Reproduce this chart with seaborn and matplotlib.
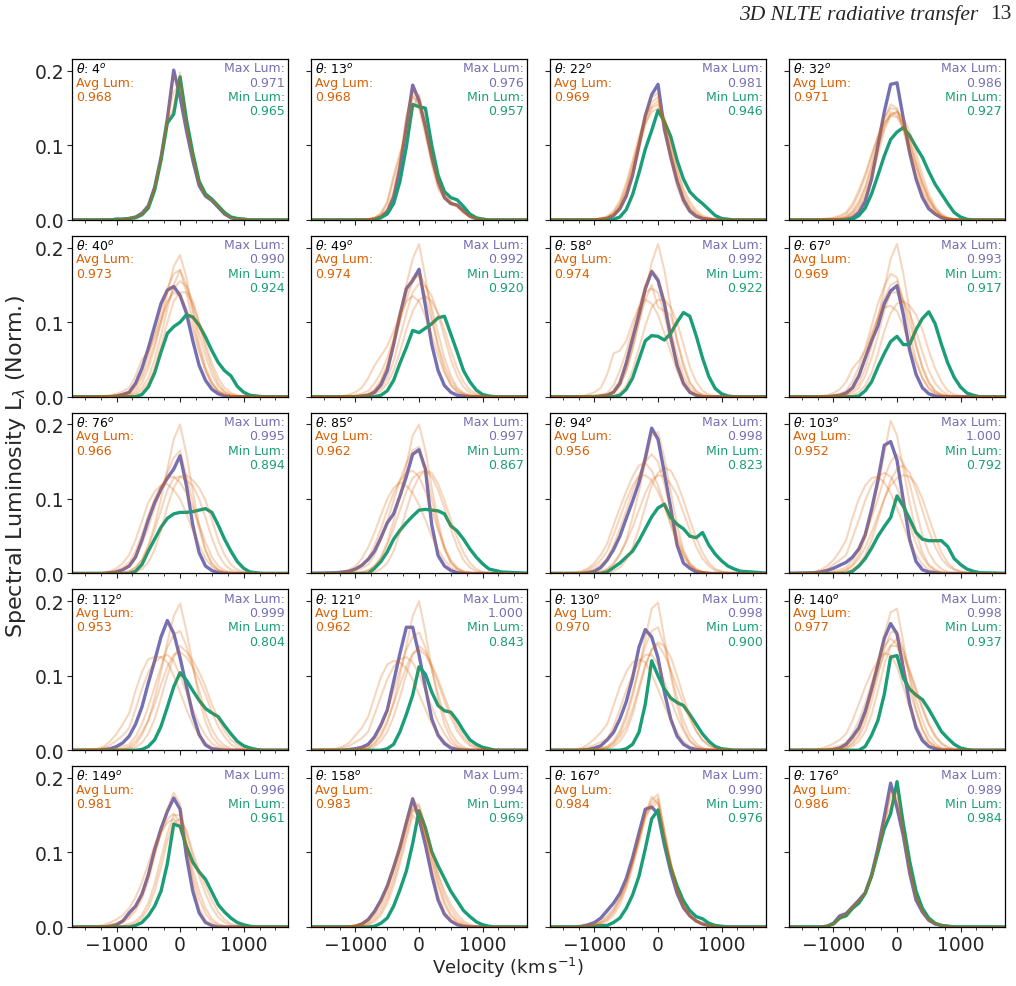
import numpy as np
import matplotlib
matplotlib.use("Agg")
import matplotlib.pyplot as plt
from matplotlib.ticker import MultipleLocator
import seaborn as sns

# velocity grid (km/s)
VEL = [-1800, -1300, -1200, -1100, -1000, -900, -800, -700, -600, -500, -400, -300, -200, -100,
       0, 100, 200, 300, 400, 500, 600, 700, 800, 900, 1000, 1100, 1200, 1300, 1800]

THETA = [4, 13, 22, 32, 40, 49, 58, 67, 76, 85, 94, 103, 112, 121, 130, 140, 149, 158, 167, 176]
AVG_LUM = [0.968, 0.968, 0.969, 0.971, 0.973, 0.974, 0.974, 0.969, 0.966, 0.962,
           0.956, 0.952, 0.953, 0.962, 0.970, 0.977, 0.981, 0.983, 0.984, 0.986]
MAX_LUM = [0.971, 0.976, 0.981, 0.986, 0.990, 0.992, 0.992, 0.993, 0.995, 0.997,
           0.998, 1.000, 0.999, 1.000, 0.998, 0.998, 0.996, 0.994, 0.990, 0.989]
MIN_LUM = [0.965, 0.957, 0.946, 0.927, 0.924, 0.920, 0.922, 0.917, 0.894, 0.867,
           0.823, 0.792, 0.804, 0.843, 0.900, 0.937, 0.961, 0.969, 0.976, 0.984]

# spectral luminosity x 1000, brightest direction per panel
max_curves = [
    [0, 0,0,0,1,1, 2,4,9,19,44,84,136,201,165,120,80,46,32,26,17,8,3, 1,1,0,0,0, 0],
    [0, 0,0,0,0,0, 0,1,4,11,30,70,125,181,160,125,85,52,30,22,20,12,5, 2,1,0,0,0, 0],
    [0, 0,0,0,0,1, 2,6,15,32,60,100,140,168,182,122,85,52,27,12,5,2,1, 0,0,0,0,0, 0],
    [0, 0,0,0,0,0, 1,3,10,25,55,100,145,182,184,136,90,55,30,15,8,3,1, 0,0,0,0,0, 0],
    [0, 0,0,0,1,3, 6,18,38,65,95,125,143,148,136,112,75,42,22,10,4,1,0, 0,0,0,0,0, 0],
    [0, 0,0,0,0,1, 2,6,16,35,70,110,145,156,171,122,70,35,15,6,2,1,0, 0,0,0,0,0, 0],
    [0, 0,0,0,0,1, 2,6,18,45,78,110,145,168,156,125,80,42,18,6,2,0,0, 0,0,0,0,0, 0],
    [0, 0,0,0,1,2, 5,12,28,52,75,95,125,142,149,110,62,30,12,4,1,0,0, 0,0,0,0,0, 0],
    [0, 0,0,1,2,5, 10,22,45,72,95,113,128,140,158,118,65,28,10,4,1,0,0, 0,0,0,0,0, 0],
    [0, 1,2,3,6,11, 19,30,48,68,80,104,130,160,166,140,65,24,10,4,1,0,0, 0,0,0,0,0, 0],
    [0, 0,0,1,3,8, 18,32,50,74,97,122,155,195,180,135,88,38,14,7,2,1,0, 0,0,0,0,0, 0],
    [0, 1,2,4,7,11, 15,22,33,52,86,125,172,177,152,98,45,16,5,2,1,0,0, 0,0,0,0,0, 0],
    [0, 0,1,2,5,10, 19,35,58,90,120,152,174,157,124,86,48,21,7,2,1,0,0, 0,0,0,0,0, 0],
    [0, 0,0,1,2,4, 8,18,34,54,92,130,165,165,128,84,42,20,9,3,1,0,0, 0,0,0,0,0, 0],
    [0, 0,0,1,3,6, 14,24,42,65,97,138,162,152,124,78,42,19,8,3,1,0,0, 0,0,0,0,0, 0],
    [0, 0,0,0,1,3, 8,18,30,52,82,115,150,170,156,110,62,30,13,5,2,0,0, 0,0,0,0,0, 0],
    [0, 0,0,1,3,8, 19,28,44,70,104,132,155,173,158,95,48,19,6,2,0,0,0, 0,0,0,0,0, 0],
    [0, 0,0,0,1,4, 10,21,36,55,80,107,140,172,145,110,70,36,17,8,3,1,0, 0,0,0,0,0, 0],
    [0, 0,1,3,6,12, 22,32,45,65,93,126,158,161,152,110,74,45,26,15,8,4,2, 1,0,0,0,0, 0],
    [0, 0,0,1,5,15, 18,27,36,46,70,106,148,193,160,122,72,36,20,9,4,2,1, 0,0,0,0,0, 0],
]

# faintest direction per panel
min_curves = [
    [0, 0,0,0,1,1, 2,3,7,16,40,80,130,142,192,135,90,52,35,28,19,10,4, 2,1,0,0,0, 0],
    [0, 0,0,0,0,0, 0,1,3,8,22,52,98,155,152,150,100,60,38,30,27,18,8, 3,1,0,0,0, 0],
    [0, 0,0,0,0,0, 0,1,4,14,34,63,95,120,147,132,112,80,55,38,29,22,14, 6,2,1,0,0, 0],
    [0, 0,0,0,0,0, 0,1,6,16,35,60,86,108,118,124,113,98,84,65,48,35,22, 10,4,1,0,0, 0],
    [0, 0,0,0,0,0, 0,0,3,13,32,60,85,94,100,110,107,96,80,62,46,35,28, 14,6,2,1,0, 0],
    [0, 0,0,0,0,0, 0,0,2,8,22,45,66,89,86,92,98,106,108,84,60,35,20, 9,3,1,0,0, 0],
    [0, 0,0,0,0,0, 0,0,2,10,25,50,75,82,81,76,85,100,113,108,82,52,27, 11,4,1,0,0, 0],
    [0, 0,0,0,0,0, 0,0,1,8,20,40,58,74,81,70,70,90,105,114,98,70,45, 26,13,5,2,0, 0],
    [0, 0,0,0,0,0, 0,3,12,30,46,62,74,80,82,82,83,85,87,82,65,46,30, 16,7,2,1,0, 0],
    [0, 0,0,0,0,0, 0,7,16,29,46,58,68,77,85,86,85,84,80,64,57,46,33, 22,13,6,4,2, 0],
    [0, 0,0,0,0,0, 2,8,14,22,30,44,60,76,88,93,75,66,60,50,48,55,38, 26,17,10,6,3, 0],
    [0, 0,0,0,0,0, 0,3,10,20,34,50,63,75,104,90,73,55,46,44,44,44,36, 20,12,6,3,1, 0],
    [0, 0,0,0,0,0, 0,0,1,5,14,32,58,85,104,94,80,67,56,50,45,33,22, 12,6,3,1,0, 0],
    [0, 0,0,0,0,0, 0,0,0,2,8,25,48,74,112,102,78,60,53,51,40,26,14, 8,4,2,0,0, 0],
    [0, 0,0,0,0,0, 0,0,0,2,8,24,62,120,100,82,70,64,60,48,35,22,12, 5,2,1,0,0, 0],
    [0, 0,0,0,0,0, 0,0,0,5,20,40,75,125,127,97,82,74,68,55,40,25,16, 8,3,1,0,0, 0],
    [0, 0,0,0,0,0, 0,2,6,15,28,48,85,138,135,108,87,74,64,47,30,20,12, 6,3,1,0,0, 0],
    [0, 0,0,0,0,0, 0,1,5,12,28,50,75,112,156,133,101,82,65,48,35,22,14, 7,3,1,0,0, 0],
    [0, 0,0,0,1,2, 2,6,12,25,43,68,105,145,157,115,80,55,35,22,14,11,5, 2,1,0,0,0, 0],
    [0, 0,0,1,4,12, 15,25,32,45,68,100,132,152,195,138,88,48,25,12,5,2,1, 0,0,0,0,0, 0],
]

# a sample of the other viewing directions per panel
dir_curves = [
    [[0, 0,0,0,0,1, 2,4,8,18,42,82,133,195,175,125,84,48,33,27,18,9,3, 1,1,0,0,0, 0],
     [0, 0,0,0,0,1, 2,3,8,17,41,81,132,150,198,128,85,49,34,27,18,9,3, 1,1,0,0,0, 0],
     [0, 0,0,0,0,1, 2,4,8,18,43,83,138,172,182,130,86,50,33,27,18,9,3, 1,1,0,0,0, 0]],
    [[0, 0,0,0,0,0, 1,2,6,15,38,80,135,175,165,118,78,45,30,22,18,10,4, 1,0,0,0,0, 0],
     [0, 0,0,0,0,0, 1,3,8,22,55,85,120,165,158,125,85,50,32,24,19,11,5, 2,0,0,0,0, 0],
     [0, 0,0,0,0,0, 1,2,5,14,35,75,140,170,150,115,75,42,28,22,20,12,5, 2,1,0,0,0, 0],
     [0, 0,0,0,0,1, 1,3,9,25,60,90,115,150,168,130,90,55,35,25,18,10,4, 1,0,0,0,0, 0]],
    [[0, 0,0,0,0,1, 3,8,20,40,70,105,140,165,170,120,80,45,22,10,4,2,1, 0,0,0,0,0, 0],
     [0, 0,0,0,1,2, 5,12,26,50,80,112,138,152,160,125,90,55,30,15,7,3,1, 0,0,0,0,0, 0],
     [0, 0,0,0,0,1, 2,6,15,32,60,95,128,150,155,135,100,65,38,20,10,4,2, 1,0,0,0,0, 0],
     [0, 0,0,0,1,2, 4,10,22,45,75,105,130,145,150,138,105,70,42,25,13,6,3, 1,0,0,0,0, 0],
     [0, 0,0,0,0,1, 3,7,18,38,66,100,135,158,165,130,92,58,32,16,8,3,1, 0,0,0,0,0, 0]],
    [[0, 0,0,1,2,4, 8,18,35,58,85,112,138,150,148,125,95,65,40,22,10,4,2, 1,0,0,0,0, 0],
     [0, 0,0,0,1,2, 5,12,25,45,75,108,135,155,150,120,88,58,35,18,8,3,1, 0,0,0,0,0, 0],
     [0, 0,0,0,0,1, 3,8,18,35,62,95,125,142,145,132,108,80,52,30,15,6,2, 1,0,0,0,0, 0],
     [0, 0,1,2,3,6, 10,22,40,62,88,112,130,140,138,122,100,72,48,28,14,6,2, 1,0,0,0,0, 0],
     [0, 0,0,0,0,1, 2,6,14,30,55,88,120,140,145,138,118,90,60,35,18,8,3, 1,0,0,0,0, 0],
     [0, 0,0,0,1,2, 4,10,22,42,70,100,128,145,140,128,105,75,48,27,13,5,2, 1,0,0,0,0, 0]],
    [[0, 0,0,0,0,1, 3,8,18,38,65,100,140,175,190,160,115,72,40,20,8,3,1, 0,0,0,0,0, 0],
     [0, 0,1,2,4,7, 12,28,50,60,80,105,128,140,135,118,90,60,35,18,8,3,1, 0,0,0,0,0, 0],
     [0, 0,0,0,0,1, 2,5,12,25,50,82,118,150,170,150,118,85,55,30,14,6,2, 1,0,0,0,0, 0],
     [0, 0,0,1,2,3, 5,12,25,45,72,100,125,145,155,148,128,98,65,38,18,7,3, 1,0,0,0,0, 0],
     [0, 0,0,0,0,0, 1,3,8,18,38,68,100,128,140,140,125,100,72,45,25,12,5, 2,1,0,0,0, 0],
     [0, 0,0,1,2,3, 6,15,30,55,85,115,145,165,170,140,100,65,35,16,7,3,1, 0,0,0,0,0, 0]],
    [[0, 0,0,0,0,1, 3,8,20,42,75,112,150,185,205,160,110,65,35,16,6,2,1, 0,0,0,0,0, 0],
     [0, 0,1,3,6,12, 25,42,55,68,88,110,128,135,128,108,82,55,32,16,7,3,1, 0,0,0,0,0, 0],
     [0, 0,0,1,1,2, 4,10,22,42,70,100,130,155,165,150,120,85,52,28,12,5,2, 1,0,0,0,0, 0],
     [0, 0,0,0,0,1, 2,5,12,25,48,80,112,140,152,148,135,110,80,50,28,13,5, 2,1,0,0,0, 0],
     [0, 0,0,1,2,4, 8,18,32,52,78,108,140,160,162,135,102,70,42,22,10,4,2, 1,0,0,0,0, 0],
     [0, 0,0,0,0,0, 1,3,8,18,35,60,90,115,130,135,128,112,90,62,38,20,9, 4,1,0,0,0, 0]],
    [[0, 0,0,0,0,0, 2,5,15,35,65,100,140,180,205,170,120,75,40,18,7,2,1, 0,0,0,0,0, 0],
     [0, 0,1,3,6,12, 30,58,62,75,100,120,130,125,110,85,60,35,15,5,2,1,0, 0,0,0,0,0, 0],
     [0, 0,0,0,0,0, 0,1,5,15,35,65,95,120,130,130,120,100,70,40,20,8,3, 1,0,0,0,0, 0],
     [0, 0,0,0,0,1, 3,8,22,45,80,115,140,145,140,110,75,45,20,8,3,1,0, 0,0,0,0,0, 0],
     [0, 0,0,0,0,1, 2,5,15,35,65,100,130,150,120,115,110,75,45,20,8,3,1, 0,0,0,0,0, 0],
     [0, 0,0,1,2,3, 5,15,35,60,90,120,150,170,160,130,90,55,28,12,4,1,0, 0,0,0,0,0, 0]],
    [[0, 0,0,0,0,1, 3,8,18,38,68,105,145,185,205,165,115,70,38,18,7,3,1, 0,0,0,0,0, 0],
     [0, 0,1,2,5,10, 20,38,48,62,85,105,120,122,115,95,70,45,25,12,5,2,1, 0,0,0,0,0, 0],
     [0, 0,0,0,0,0, 1,2,6,15,32,58,88,112,125,128,122,110,90,62,38,20,8, 3,1,0,0,0, 0],
     [0, 0,0,0,1,2, 4,12,28,52,80,108,132,150,155,130,100,68,40,20,8,3,1, 0,0,0,0,0, 0],
     [0, 0,0,0,0,1, 2,5,12,28,52,82,115,140,140,128,112,88,60,35,18,8,3, 1,0,0,0,0, 0],
     [0, 0,0,1,2,4, 8,20,40,65,95,125,148,165,160,125,85,50,25,10,4,1,0, 0,0,0,0,0, 0]],
    [[0, 0,0,0,0,1, 3,8,18,38,65,100,140,180,200,160,110,65,32,14,5,2,1, 0,0,0,0,0, 0],
     [0, 0,1,3,7,14, 25,45,70,95,110,118,120,112,100,80,58,38,20,9,4,1,0, 0,0,0,0,0, 0],
     [0, 0,0,0,0,0, 1,2,6,15,32,58,90,115,130,132,125,115,98,72,45,25,12, 5,2,1,0,0, 0],
     [0, 0,0,1,3,5, 10,22,40,62,88,112,135,155,165,130,95,60,30,12,5,2,1, 0,0,0,0,0, 0],
     [0, 0,0,0,0,1, 3,8,18,35,58,85,112,128,130,125,118,100,75,48,26,12,5, 2,1,0,0,0, 0],
     [0, 0,1,2,4,8, 15,30,52,78,100,118,128,130,122,108,88,65,42,22,10,4,1, 0,0,0,0,0, 0]],
    [[0, 0,0,0,0,1, 4,10,22,42,70,105,145,185,200,165,115,70,35,15,6,2,1, 0,0,0,0,0, 0],
     [0, 1,2,5,10,20, 35,55,78,100,115,122,118,108,92,72,50,32,18,8,3,1,0, 0,0,0,0,0, 0],
     [0, 0,0,0,0,0, 1,2,6,14,30,55,85,112,130,138,135,120,98,72,48,28,14, 6,2,1,0,0, 0],
     [0, 0,1,2,4,7, 12,25,45,70,98,125,148,165,170,140,100,62,32,14,6,2,1, 0,0,0,0,0, 0],
     [0, 0,0,0,1,2, 4,10,20,38,60,85,110,128,135,138,130,112,88,60,36,18,8, 3,1,0,0,0, 0],
     [0, 0,1,3,6,11, 20,38,60,85,108,125,135,138,130,110,85,58,35,18,8,3,1, 0,0,0,0,0, 0]],
    [[0, 0,0,0,1,2, 5,12,25,45,75,110,150,185,190,155,110,65,32,14,6,2,1, 0,0,0,0,0, 0],
     [0, 1,3,7,14,25, 40,65,88,110,130,145,148,138,118,92,65,40,22,10,4,1,0, 0,0,0,0,0, 0],
     [0, 0,0,0,0,0, 1,3,8,18,35,60,90,118,135,142,138,122,98,72,48,28,14, 6,3,1,0,0, 0],
     [0, 0,1,3,6,12, 20,38,60,85,110,132,150,160,150,120,85,52,28,12,5,2,1, 0,0,0,0,0, 0],
     [0, 0,0,1,2,3, 6,14,26,42,62,85,108,125,132,130,120,105,82,58,36,20,10, 4,2,1,0,0, 0],
     [0, 1,2,5,10,18, 30,52,75,98,118,130,132,125,110,90,68,45,26,12,5,2,1, 0,0,0,0,0, 0]],
    [[0, 0,0,0,1,2, 5,12,25,48,80,118,160,205,185,140,95,55,28,12,5,2,1, 0,0,0,0,0, 0],
     [0, 2,5,10,18,30, 45,75,100,118,128,130,122,108,88,65,42,25,12,5,2,1,0, 0,0,0,0,0, 0],
     [0, 0,0,0,0,1, 2,5,12,25,45,72,100,125,140,145,135,112,85,58,36,20,10, 5,2,1,0,0, 0],
     [0, 1,3,6,12,18, 25,48,72,98,118,130,135,130,115,92,65,40,22,10,4,1,0, 0,0,0,0,0, 0],
     [0, 0,1,2,3,5, 8,18,32,52,75,100,128,150,160,148,120,85,52,28,14,6,2, 1,0,0,0,0, 0],
     [0, 0,0,0,1,2, 4,10,20,35,55,78,100,118,128,132,130,120,100,75,50,28,14, 6,3,1,0,0, 0]],
    [[0, 0,0,0,0,1, 3,8,20,40,70,105,145,180,197,160,115,70,38,18,8,3,1, 0,0,0,0,0, 0],
     [0, 2,5,12,22,35, 50,80,105,122,125,125,118,100,78,55,35,20,10,4,2,1,0, 0,0,0,0,0, 0],
     [0, 0,0,0,0,1, 2,4,10,22,42,70,100,125,140,132,120,105,85,62,42,26,14, 7,3,1,0,0, 0],
     [0, 1,3,7,13,20, 30,55,82,105,118,125,128,120,100,78,55,35,20,9,4,1,0, 0,0,0,0,0, 0],
     [0, 0,1,2,3,5, 8,18,35,58,85,112,138,155,160,140,110,80,50,28,14,6,2, 1,0,0,0,0, 0],
     [0, 0,0,0,1,2, 5,12,24,40,62,88,112,128,132,125,112,95,75,52,32,18,8, 3,1,0,0,0, 0]],
    [[0, 0,0,0,0,1, 3,8,18,36,65,100,140,180,200,158,110,68,35,16,6,2,1, 0,0,0,0,0, 0],
     [0, 2,5,10,20,30, 45,72,98,115,120,118,110,95,75,55,36,22,12,5,2,1,0, 0,0,0,0,0, 0],
     [0, 0,0,0,0,1, 2,5,12,25,45,72,102,128,140,132,115,95,72,50,32,18,9, 4,2,1,0,0, 0],
     [0, 1,3,6,11,16, 25,48,72,95,112,122,125,118,102,80,58,38,22,10,4,1,0, 0,0,0,0,0, 0],
     [0, 0,0,1,2,3, 6,15,30,52,80,108,135,152,158,138,108,75,45,24,11,4,1, 0,0,0,0,0, 0],
     [0, 0,0,0,1,2, 4,10,22,40,62,88,112,130,135,128,112,90,66,44,26,14,6, 3,1,0,0,0, 0]],
    [[0, 0,0,0,1,2, 4,10,22,42,72,110,150,190,198,150,100,60,30,13,5,2,1, 0,0,0,0,0, 0],
     [0, 1,3,8,15,24, 35,60,85,105,118,122,118,102,82,60,40,24,12,5,2,1,0, 0,0,0,0,0, 0],
     [0, 0,0,0,0,1, 2,5,12,25,48,80,112,135,142,128,108,85,62,42,26,14,7, 3,1,0,0,0, 0],
     [0, 0,2,4,7,11, 15,32,55,80,102,118,128,128,115,92,68,45,26,12,5,2,1, 0,0,0,0,0, 0],
     [0, 0,0,1,2,3, 5,12,26,48,78,110,140,160,165,140,105,70,40,20,9,3,1, 0,0,0,0,0, 0],
     [0, 0,0,0,1,2, 3,8,18,32,55,85,115,135,145,140,125,100,72,46,26,13,6, 2,1,0,0,0, 0]],
    [[0, 0,0,0,1,2, 4,10,22,45,78,118,155,185,190,145,95,55,28,12,5,2,1, 0,0,0,0,0, 0],
     [0, 1,2,5,9,14, 22,40,62,85,105,120,130,128,112,85,58,35,18,8,3,1,0, 0,0,0,0,0, 0],
     [0, 0,0,0,0,1, 2,5,12,25,48,80,115,140,150,132,108,82,58,36,20,10,4, 2,1,0,0,0, 0],
     [0, 0,1,2,4,6, 10,22,40,62,90,118,140,150,142,112,80,52,28,12,5,2,1, 0,0,0,0,0, 0],
     [0, 0,0,0,1,2, 3,8,18,36,65,100,135,158,160,135,100,68,40,20,9,3,1, 0,0,0,0,0, 0],
     [0, 0,0,1,2,3, 6,14,28,48,75,105,128,140,140,125,105,80,55,34,18,8,3, 1,0,0,0,0, 0]],
    [[0, 0,1,2,4,7, 12,22,38,62,95,128,158,180,165,112,60,25,9,3,1,0,0, 0,0,0,0,0, 0],
     [0, 1,3,6,10,16, 25,40,60,85,110,128,140,145,135,110,78,48,25,11,4,1,0, 0,0,0,0,0, 0],
     [0, 0,0,1,1,2, 4,8,16,32,58,92,125,150,150,125,95,68,45,26,13,6,2, 1,0,0,0,0, 0],
     [0, 0,1,3,5,9, 15,28,45,70,100,125,145,152,140,105,68,38,18,7,3,1,0, 0,0,0,0,0, 0],
     [0, 0,0,0,0,1, 2,5,12,25,48,80,115,140,145,130,100,75,55,36,20,10,4, 2,1,0,0,0, 0]],
    [[0, 0,0,1,2,4, 8,18,32,52,78,108,142,172,160,118,78,42,20,9,4,1,0, 0,0,0,0,0, 0],
     [0, 0,0,1,2,5, 10,20,35,55,82,110,138,158,150,122,88,55,30,14,6,2,1, 0,0,0,0,0, 0],
     [0, 0,0,0,1,2, 4,10,20,38,62,92,125,155,165,135,100,68,42,24,12,5,2, 1,0,0,0,0, 0],
     [0, 0,0,1,2,3, 6,14,26,45,70,100,132,162,155,125,92,60,34,17,8,3,1, 0,0,0,0,0, 0],
     [0, 0,0,0,0,1, 3,7,16,32,55,85,118,150,140,128,100,72,48,30,17,8,3, 1,0,0,0,0, 0]],
    [[0, 0,1,2,4,8, 15,25,40,60,88,120,152,170,178,125,82,48,26,14,7,3,1, 0,0,0,0,0, 0],
     [0, 0,0,1,3,6, 10,20,35,55,85,118,150,175,165,120,80,48,28,15,8,4,2, 1,0,0,0,0, 0],
     [0, 0,0,1,2,4, 8,16,30,52,80,112,145,165,172,128,85,52,30,17,9,5,2, 1,0,0,0,0, 0],
     [0, 0,1,2,3,6, 12,22,38,58,86,116,150,160,168,130,88,52,30,16,8,4,2, 1,0,0,0,0, 0]],
    [[0, 0,0,1,4,13, 17,26,35,46,69,104,140,175,175,128,78,40,22,10,4,2,1, 0,0,0,0,0, 0],
     [0, 0,0,1,4,13, 18,27,36,46,70,105,145,160,185,130,80,42,22,10,5,2,1, 0,0,0,0,0, 0],
     [0, 0,0,1,4,13, 16,25,34,45,68,102,138,185,165,125,75,38,20,9,4,2,1, 0,0,0,0,0, 0]],
]

ORANGE = "#d95f02"
PURPLE = "#7570b3"
GREEN = "#1b9e77"

sns.set_style("ticks")
plt.rcParams["font.family"] = ["DejaVu Sans"]
plt.rcParams["mathtext.fontset"] = "dejavusans"
plt.rcParams["axes.edgecolor"] = "black"
plt.rcParams["axes.linewidth"] = 0.9

fig, axes = plt.subplots(5, 4, figsize=(10.16, 9.87), dpi=100, sharex=True, sharey=True)
fig.subplots_adjust(left=0.0709, right=0.9892, bottom=0.0598, top=0.9392,
                    wspace=0.106, hspace=0.098)

vel = np.array(VEL)
for i, ax in enumerate(axes.flat):
    sns.lineplot(x=vel, y=np.array(max_curves[i]) / 1000, ax=ax, color=PURPLE, lw=2.4)
    sns.lineplot(x=vel, y=np.array(min_curves[i]) / 1000, ax=ax, color=GREEN, lw=2.4)
    for c in dir_curves[i]:
        sns.lineplot(x=vel, y=np.array(c) / 1000, ax=ax, color=ORANGE, lw=1.5, alpha=0.25)

    ax.set_xlim(-1700, 1700)
    ax.set_ylim(0, 0.216)
    ax.set_xlabel("")
    ax.set_ylabel("")
    ax.xaxis.set_major_locator(MultipleLocator(1000))
    ax.xaxis.set_minor_locator(MultipleLocator(250))
    ax.set_yticks([0, 0.1, 0.2])
    ax.tick_params(which="major", direction="out", length=3.5, width=0.8, labelsize=13.5, pad=2)
    ax.tick_params(which="minor", direction="out", length=2, width=0.6)
    ax.tick_params(axis="y", which="minor", left=False)

    # annotations
    dy = 0.089
    y0 = 0.985
    ax.text(0.018, y0, rf"$\theta$: {THETA[i]}$^o$", transform=ax.transAxes,
            ha="left", va="top", fontsize=9, color="black")
    ax.text(0.018, y0 - dy, "Avg Lum:", transform=ax.transAxes,
            ha="left", va="top", fontsize=9, color=ORANGE)
    ax.text(0.018, y0 - 2 * dy, f"{AVG_LUM[i]:.3f}", transform=ax.transAxes,
            ha="left", va="top", fontsize=9, color=ORANGE)
    ax.text(0.985, y0, "Max Lum:", transform=ax.transAxes,
            ha="right", va="top", fontsize=9, color=PURPLE)
    ax.text(0.985, y0 - dy, f"{MAX_LUM[i]:.3f}", transform=ax.transAxes,
            ha="right", va="top", fontsize=9, color=PURPLE)
    ax.text(0.985, y0 - 2 * dy, "Min Lum:", transform=ax.transAxes,
            ha="right", va="top", fontsize=9, color=GREEN)
    ax.text(0.985, y0 - 3 * dy, f"{MIN_LUM[i]:.3f}", transform=ax.transAxes,
            ha="right", va="top", fontsize=9, color=GREEN)

fig.text(0.5, 0.019, r"Velocity (km$\,$s$^{-1}$)", ha="center", va="center", fontsize=13)
fig.text(0.016, 0.527, r"Spectral Luminosity L$_\lambda$ (Norm.)", rotation=90,
         ha="center", va="center", fontsize=16)

# running header of the paper page
fig.text(0.963, 0.985, "3D NLTE radiative transfer", ha="right", va="center",
         fontsize=15.5, family="Liberation Serif", style="italic")
fig.text(0.996, 0.985, "13", ha="right", va="center", fontsize=15.5, family="Liberation Serif")

fig.savefig("out.png", dpi=100)
